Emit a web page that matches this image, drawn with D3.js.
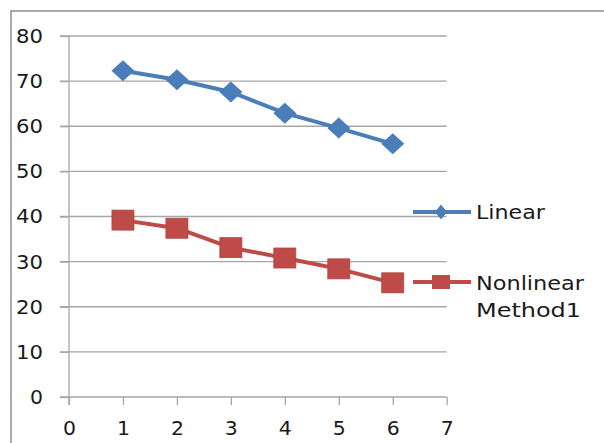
<!DOCTYPE html>
<html><head><meta charset="utf-8">
<script src="https://cdn.jsdelivr.net/npm/d3@7"></script>
<style>html,body{margin:0;padding:0;background:#fff;}svg{display:block;}</style>
</head><body>
<svg id="c" width="604" height="443"></svg>
<script>
const xValues = [1, 2, 3, 4, 5, 6];
const linearValues = [72.3, 70.3, 67.6, 62.9, 59.6, 56.1];
const nonlinearValues = [39.2, 37.4, 33.1, 30.8, 28.4, 25.3];
const seriesNames = ["Linear", "Nonlinear Method1"];
const xTicks = [0, 1, 2, 3, 4, 5, 6, 7];
const yTicks = [0, 10, 20, 30, 40, 50, 60, 70, 80];

const svg = d3.select("#c");
const font = "DejaVu Sans";
const blue = "#4A7EBB", red = "#BE4B48", grid = "#A6A6A6";

// outer frame (top and left only visible)
svg.append("path").attr("d", "M11,443 L11,11 L604,11").attr("fill", "none").attr("stroke", "#8E8E8E").attr("stroke-width", 1.5);

const x = d3.scaleLinear().domain([0, 7]).range([69, 446.7]);
const y = d3.scaleLinear().domain([0, 80]).range([397, 36]);

// gridlines
svg.append("g").selectAll("line").data(yTicks).join("line")
  .attr("x1", 60).attr("x2", x(7)).attr("y1", d => y(d)).attr("y2", d => y(d))
  .attr("stroke", grid).attr("stroke-width", 1.3);

// y axis
const yAxis = svg.append("g").attr("transform", `translate(${x(0)},0)`)
  .call(d3.axisLeft(y).tickValues(yTicks).tickFormat(d3.format("d")).tickSize(9).tickPadding(17));
yAxis.select(".domain").attr("stroke", grid).attr("stroke-width", 1.3).attr("d", `M0,${y(80)}V405`);
yAxis.selectAll(".tick line").attr("stroke", grid).attr("stroke-width", 1.3);
yAxis.selectAll("text").attr("font-family", font).attr("font-size", 20).attr("fill", "#1a1a1a")
  .attr("textLength", d => d >= 10 ? 27 : 13).attr("lengthAdjust", "spacingAndGlyphs");

// x axis
const xAxis = svg.append("g").attr("transform", `translate(0,${y(0)})`)
  .call(d3.axisBottom(x).tickValues(xTicks).tickFormat(d3.format("d")).tickSize(8).tickPadding(16));
xAxis.select(".domain").remove();
xAxis.selectAll(".tick line").attr("stroke", grid).attr("stroke-width", 1.3);
xAxis.selectAll("text").attr("font-family", font).attr("font-size", 20).attr("fill", "#1a1a1a")
  .attr("textLength", 13).attr("lengthAdjust", "spacingAndGlyphs");

const line = d3.line().x((d, i) => x(xValues[i])).y(d => y(d));

// Linear series
svg.append("path").datum(linearValues).attr("d", line).attr("fill", "none")
  .attr("stroke", blue).attr("stroke-width", 4).attr("stroke-linejoin", "round");
svg.append("g").selectAll("path").data(linearValues).join("path")
  .attr("d", "M0,-10.5 L11.5,0 L0,10.5 L-11.5,0 Z")
  .attr("transform", (d, i) => `translate(${x(xValues[i])},${y(d)})`)
  .attr("fill", blue);

// Nonlinear series
svg.append("path").datum(nonlinearValues).attr("d", line).attr("fill", "none")
  .attr("stroke", red).attr("stroke-width", 4).attr("stroke-linejoin", "round");
svg.append("g").selectAll("rect").data(nonlinearValues).join("rect")
  .attr("x", (d, i) => x(xValues[i]) - 11).attr("y", d => y(d) - 10)
  .attr("width", 22).attr("height", 20).attr("fill", red)
  .attr("stroke", "#B04542").attr("stroke-width", 0.8);

// legend
const lg = svg.append("g");
lg.append("line").attr("x1", 413).attr("x2", 471).attr("y1", 212).attr("y2", 212)
  .attr("stroke", blue).attr("stroke-width", 4);
lg.append("path").attr("d", "M0,-7.5 L6,0 L0,7.5 L-6,0 Z").attr("transform", "translate(441,212)").attr("fill", blue);
lg.append("text").attr("x", 476).attr("y", 219).text(seriesNames[0])
  .attr("font-family", font).attr("font-size", 20).attr("fill", "#1a1a1a")
  .attr("textLength", 69).attr("lengthAdjust", "spacingAndGlyphs");

lg.append("line").attr("x1", 413).attr("x2", 471).attr("y1", 282).attr("y2", 282)
  .attr("stroke", red).attr("stroke-width", 4);
lg.append("rect").attr("x", 432).attr("y", 275).attr("width", 18).attr("height", 14).attr("fill", red);
const words = seriesNames[1].split(" ");
lg.append("text").attr("x", 476).attr("y", 290).text(words[0])
  .attr("font-family", font).attr("font-size", 20).attr("fill", "#1a1a1a")
  .attr("textLength", 108).attr("lengthAdjust", "spacingAndGlyphs");
lg.append("text").attr("x", 476).attr("y", 317).text(words[1])
  .attr("font-family", font).attr("font-size", 20).attr("fill", "#1a1a1a")
  .attr("textLength", 105).attr("lengthAdjust", "spacingAndGlyphs");
</script>
</body></html>
